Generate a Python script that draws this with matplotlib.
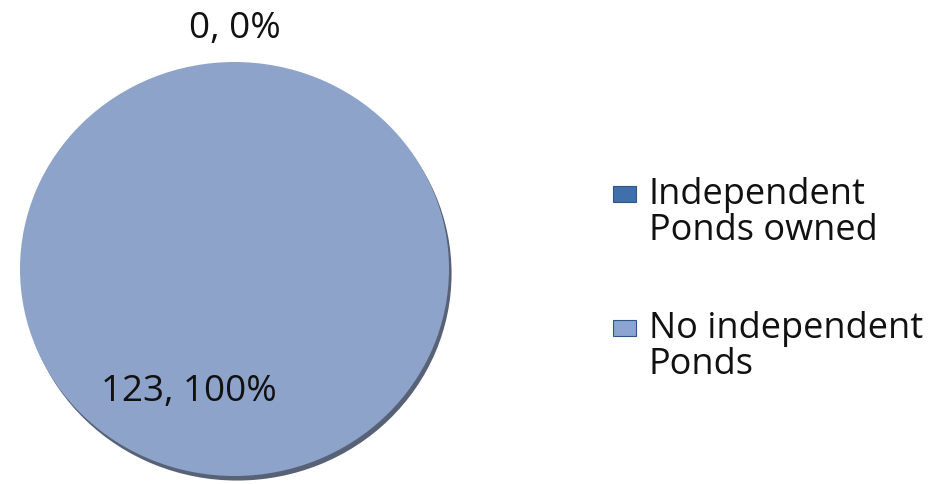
import numpy as np
import matplotlib
matplotlib.use("Agg")
import matplotlib.pyplot as plt
from matplotlib.patches import Rectangle

# data
categories = ["Independent\nPonds owned", "No independent\nPonds"]
counts = [0, 123]
legend_colors = ["#4070ab", "#8ba5cf"]
pie_color = "#8da3c9"

plt.rcParams['font.family'] = ['Open Sans', 'DejaVu Sans']

W, H = 933, 485
fig = plt.figure(figsize=(W / 100, H / 100), dpi=100)

# pie axes placed in pixel space (slightly wider than tall, as in the source image)
px_l, px_r, px_t, px_b = 20, 449, 63, 477
ax = fig.add_axes([px_l / W, 1 - px_b / H, (px_r - px_l) / W, (px_b - px_t) / H])

total = sum(counts)
pct = [100.0 * c / total for c in counts]

# soft shadow under the pie
ax.pie(counts, colors=["#3b475f", "#3b475f"], startangle=90, counterclock=False,
       radius=1.0, center=(0.012, -0.022), wedgeprops=dict(linewidth=0, alpha=0.85))
wedges, _ = ax.pie(counts, colors=[legend_colors[0], pie_color], startangle=90,
                   counterclock=False, radius=1.0,
                   wedgeprops=dict(linewidth=0))
ax.set_aspect('auto')
ax.set_xlim(-1.0, 1.0)
ax.set_ylim(-1.0, 1.0)
ax.axis('off')

# data labels
lbl_pos = [(0.0, 1.165), (-0.215, -0.59)]
for (x, y), c, p in zip(lbl_pos, counts, pct):
    ax.text(x, y, f"{c}, {p:.0f}%", ha='center', va='center', fontsize=26.5,
            color='#111111')

# legend drawn by hand so the square sits on the first text line
leg_x, leg_y0, leg_step, line_h = 649, 203, 134, 37
for i, (lab, col) in enumerate(zip(categories, legend_colors)):
    base = leg_y0 + i * leg_step
    fig.patches.append(Rectangle((613 / W, 1 - base / H), 23 / W, 16 / H,
                                 transform=fig.transFigure, facecolor=col,
                                 edgecolor="#2f5587", linewidth=0.8))
    fig.text(leg_x / W, 1 - (base + line_h) / H, lab, ha='left', va='baseline',
             fontsize=26, color='#111111', linespacing=1.0)

fig.savefig("out.png", dpi=100)
